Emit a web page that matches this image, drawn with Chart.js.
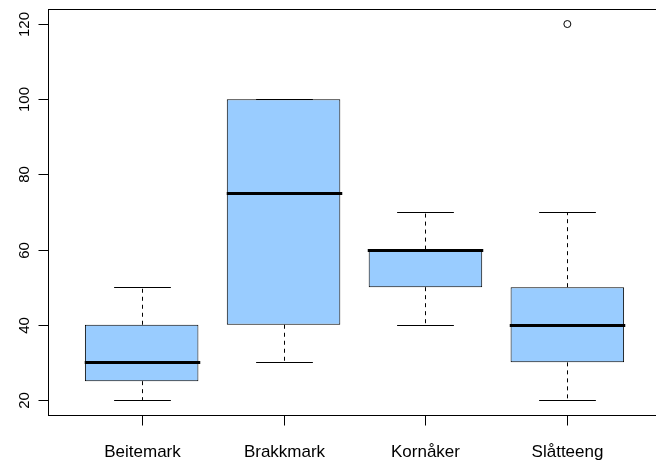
<!DOCTYPE html>
<html>
<head>
<meta charset="utf-8">
<script src="https://cdn.jsdelivr.net/npm/chart.js@4"></script>
<style>
  html, body { margin: 0; padding: 0; background: #fff; overflow: hidden; }
  #wrap { width: 656px; height: 461px; overflow: hidden; }
  #boxChart { display: block; }
</style>
</head>
<body>
<div id="wrap"><canvas id="boxChart" width="666" height="461"></canvas></div>
<script>
// Box statistics per category
const categories = ["Beitemark", "Brakkmark", "Kornåker", "Slåtteeng"];
const whiskerLow = [20, 30, 40, 20];
const lowerQuartile = [25, 40, 50, 30];
const medians = [30, 75, 60, 40];
const upperQuartile = [40, 100, 60, 50];
const whiskerHigh = [50, 100, 70, 70];
const outlierGroup = [4];
const outlierValue = [120];
const yTicks = [20, 40, 60, 80, 100, 120];

const FONT = '"Liberation Sans", Arial, sans-serif';

// whiskers, staples, medians, frame and axes
const boxExtras = {
  id: "boxExtras",
  afterDatasetsDraw(chart) {
    const { ctx, chartArea, scales } = chart;
    const x = scales.x, y = scales.y;
    const unit = x.getPixelForValue(1) - x.getPixelForValue(0);
    ctx.save();
    ctx.strokeStyle = "#000";
    ctx.lineCap = "butt";

    categories.forEach((name, i) => {
      const cx = Math.round(x.getPixelForValue(i + 1)) + 0.5;
      const staple = unit * 0.2;
      const boxHalf = unit * 0.4;

      // dashed whiskers
      ctx.lineWidth = 1;
      ctx.setLineDash([4, 4]);
      ctx.beginPath();
      ctx.moveTo(cx, y.getPixelForValue(lowerQuartile[i]));
      ctx.lineTo(cx, y.getPixelForValue(whiskerLow[i]));
      ctx.moveTo(cx, y.getPixelForValue(upperQuartile[i]));
      ctx.lineTo(cx, y.getPixelForValue(whiskerHigh[i]));
      ctx.stroke();

      // staples
      ctx.setLineDash([]);
      ctx.beginPath();
      [whiskerLow[i], whiskerHigh[i]].forEach(v => {
        const py = Math.round(y.getPixelForValue(v)) + 0.5;
        ctx.moveTo(cx - staple, py);
        ctx.lineTo(cx + staple, py);
      });
      ctx.stroke();

      // median
      ctx.lineWidth = 3;
      ctx.beginPath();
      const my = Math.round(y.getPixelForValue(medians[i])) + 0.5;
      ctx.moveTo(cx - boxHalf - 1, my);
      ctx.lineTo(cx + boxHalf + 1, my);
      ctx.stroke();
    });

    // frame (right side sits past the visible edge)
    ctx.lineWidth = 1;
    const L = Math.round(chartArea.left) + 0.5;
    const T = Math.round(chartArea.top) + 0.5;
    const R = Math.round(chartArea.right) + 0.5;
    const B = Math.round(chartArea.bottom) + 0.5;
    ctx.strokeRect(L, T, R - L, B - T);

    // y axis ticks and rotated labels
    ctx.fillStyle = "#000";
    ctx.font = "15px " + FONT;
    ctx.textAlign = "center";
    ctx.textBaseline = "alphabetic";
    yTicks.forEach(v => {
      const py = Math.round(y.getPixelForValue(v)) + 0.5;
      ctx.beginPath();
      ctx.moveTo(L - 10, py);
      ctx.lineTo(L, py);
      ctx.stroke();
      ctx.save();
      ctx.translate(L - 20, py);
      ctx.rotate(-Math.PI / 2);
      ctx.fillText(String(v), 0, 0);
      ctx.restore();
    });

    // x axis ticks and category labels
    ctx.font = "17px " + FONT;
    categories.forEach((name, i) => {
      const px = Math.round(x.getPixelForValue(i + 1)) + 0.5;
      ctx.beginPath();
      ctx.moveTo(px, B);
      ctx.lineTo(px, B + 10);
      ctx.stroke();
      ctx.fillText(name, px, B + 41);
    });
    ctx.restore();
  }
};

new Chart(document.getElementById("boxChart"), {
  data: {
    datasets: [
      {
        type: "bar",
        data: categories.map((c, i) => ({ x: i + 1, y: [lowerQuartile[i], upperQuartile[i]] })),
        backgroundColor: "#99CCFF",
        borderColor: "#000",
        borderWidth: 1,
        borderSkipped: false,
        barPercentage: 0.8,
        categoryPercentage: 1.0,
      },
      {
        type: "scatter",
        data: outlierGroup.map((g, i) => ({ x: g, y: outlierValue[i] })),
        pointStyle: "circle",
        pointRadius: 3.5,
        backgroundColor: "rgba(0,0,0,0)",
        borderColor: "#000",
        borderWidth: 1,
      },
    ],
  },
  options: {
    responsive: false,
    animation: false,
    layout: { padding: { left: 48, top: 9, right: 3, bottom: 46 } },
    plugins: { legend: { display: false }, tooltip: { enabled: false } },
    scales: {
      x: {
        type: "linear", min: 0.34, max: 4.66, offset: false, display: false,
        ticks: { stepSize: 1, includeBounds: false },
      },
      y: { type: "linear", min: 16, max: 124, display: false },
    },
  },
  plugins: [boxExtras],
});
</script>
</body>
</html>
